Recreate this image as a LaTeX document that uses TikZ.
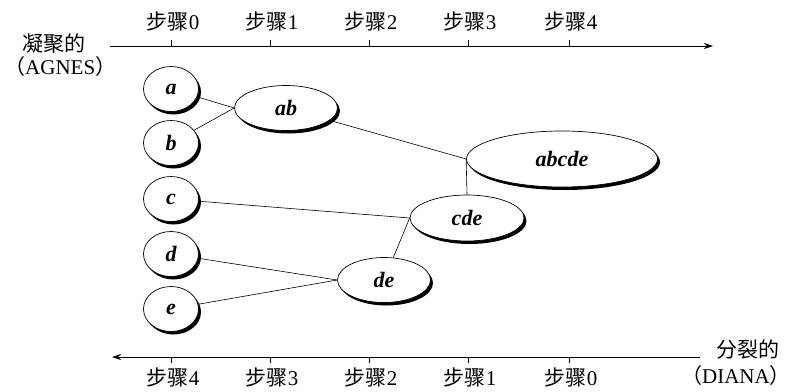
\documentclass[tikz,border=0pt]{standalone}
\usepackage{fontspec}
\setmainfont{Liberation Serif}
\newfontfamily\cjk{Noto Sans CJK SC}
\usetikzlibrary{shapes.geometric,shadows,arrows.meta}
\tikzset{
  cl/.style={ellipse,draw,line width=0.7pt,fill=white,inner sep=0pt,
    font=\fontsize{22}{24}\selectfont\bfseries\itshape,
    drop shadow={shadow xshift=2.5pt,shadow yshift=-3pt,fill=black,opacity=1}},
  lbl/.style={font=\fontsize{21}{23}\selectfont,inner sep=0pt},
  link/.style={line width=0.6pt},
  axis/.style={line width=0.7pt},
  tk/.style={line width=0.6pt}
}
\newcommand{\bz}{{\cjk 步骤}}
\begin{document}
\begin{tikzpicture}[x=1pt,y=-1pt]
\useasboundingbox (0,0) rectangle (791,391);
% top axis
\coordinate (ts) at (110,46);
\coordinate (te) at (713,46);
\draw[axis,-{Stealth[length=9pt,width=6pt]}] (ts) -- (te);
\foreach \x/\n in {171/0,270/1,369/2,468/3,569/4}{
  \coordinate (tt\n) at (\x,46);
  \draw[tk] (tt\n) -- ++(0,-6);
  \node[lbl] (tl\n) at (\x+2,21) {\bz\n};
}
\node[lbl] (agg) at (54,44) {\cjk 凝聚的};
\node[lbl,anchor=west] (agnes) at (4,67) {{\cjk （}AGNES{\cjk ）}};
% bottom axis
\coordinate (bs) at (700,357);
\coordinate (be) at (112,357);
\draw[axis,-{Stealth[length=9pt,width=6pt]}] (bs) -- (be);
\foreach \x/\n in {171/4,270/3,369/2,468/1,569/0}{
  \coordinate (bt\n) at (\x,357);
  \draw[tk] (bt\n) -- ++(0,6);
  \node[lbl] (bl\n) at (\x+2,377) {\bz\n};
}
\node[lbl] (div) at (748,350) {\cjk 分裂的};
\node[lbl,anchor=east] (diana) at (791,376) {{\cjk （}DIANA{\cjk ）}};
% nodes
\node[cl,minimum width=55pt,minimum height=45pt] (a) at (171,89) {a};
\node[cl,minimum width=55pt,minimum height=45pt] (b) at (171,143) {b};
\node[cl,minimum width=55pt,minimum height=45pt] (c) at (171,199) {c};
\node[cl,minimum width=55pt,minimum height=45pt] (d) at (171,254) {d};
\node[cl,minimum width=55pt,minimum height=45pt] (e) at (171,309) {e};
\node[cl,minimum width=103pt,minimum height=45pt] (ab) at (286,108) {ab};
\node[cl,minimum width=93pt,minimum height=45pt] (de) at (384,280) {de};
\node[cl,minimum width=114pt,minimum height=46pt] (cde) at (467,218) {cde};
\node[cl,minimum width=191pt,minimum height=56pt] (abcde) at (562,159) {abcde};
% links
\draw[link] (a) -- (ab.west);
\draw[link] (b) -- (ab.west);
\draw[link] (c) -- (cde.west);
\draw[link] (d) -- (de.west);
\draw[link] (e) -- (de.west);
\draw[link] (de) -- (cde.west);
\draw[link] (cde.north) -- (abcde.west);
\draw[link] (ab) -- (abcde.west);
\end{tikzpicture}
\end{document}
